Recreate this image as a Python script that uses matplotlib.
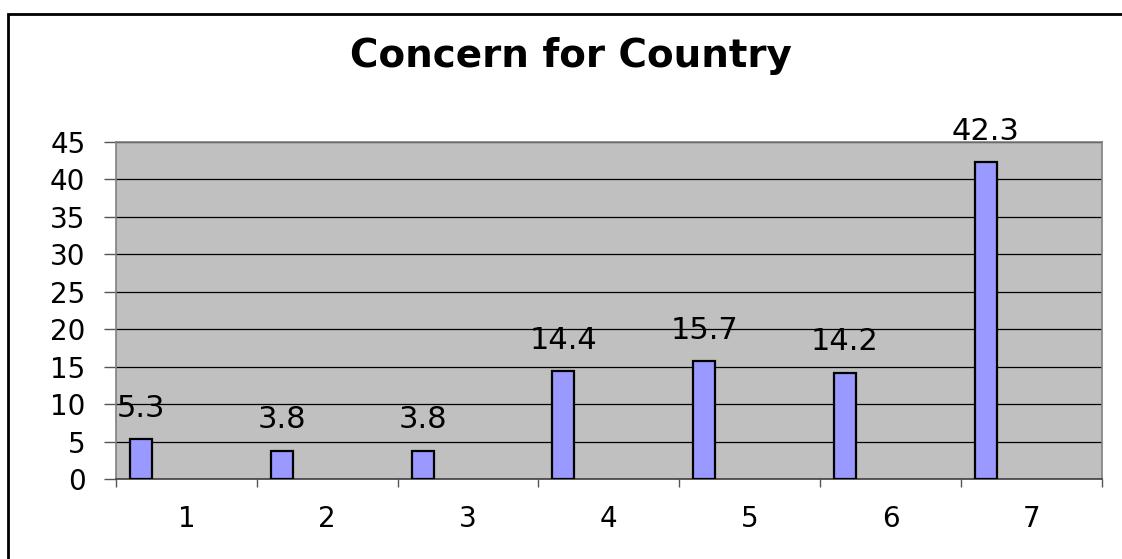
import matplotlib
matplotlib.use('Agg')
import matplotlib.pyplot as plt
from matplotlib.patches import Rectangle
import numpy as np

# Antworten auf der Skala 1..7 (Prozent)
kategorien = ['1', '2', '3', '4', '5', '6', '7']
werte = [5.3, 3.8, 3.8, 14.4, 15.7, 14.2, 42.3]
y_ticks = [0, 5, 10, 15, 20, 25, 30, 35, 40, 45]

plt.rcParams['font.family'] = ['DejaVu Sans']

fig = plt.figure(figsize=(11.22, 5.59), dpi=100)
fig.patch.set_facecolor('white')

# Rahmen um das ganze Diagramm (rechts und unten abgeschnitten)
rahmen = Rectangle((8 / 1122, -0.1), 1.2, 1 - 14 / 559 + 0.1, transform=fig.transFigure,
                   fill=False, edgecolor='black', linewidth=2.0)
fig.patches.append(rahmen)

ax = fig.add_axes([116 / 1122, 1 - 479 / 559, 985.7 / 1122, 337.3 / 559])
ax.set_facecolor('#C0C0C0')

pos = np.arange(len(werte))
versatz = -0.5 + 0.0994 + 0.078
breite = 0.156
ax.bar(pos + versatz, werte, width=breite, color='#9999FF', edgecolor='black', linewidth=1.6, zorder=3)

for xp, w in zip(pos + versatz, werte):
    ax.annotate(f'{w}', xy=(xp, w), xytext=(0, 16), textcoords='offset points',
                ha='center', va='baseline', fontsize=22, color='black', zorder=4,
                annotation_clip=False)

ax.set_xlim(-0.5, len(werte) - 0.5)
ax.set_ylim(0, 45)
ax.set_yticks(y_ticks)
ax.yaxis.grid(True, color='black', linewidth=0.9, zorder=1)
ax.set_axisbelow(True)

ax.set_xticks(pos)
ax.set_xticklabels(kategorien)
ax.set_xticks(np.arange(len(werte) + 1) - 0.5, minor=True)
ax.tick_params(axis='x', which='major', length=0, pad=19, labelsize=20)
ax.tick_params(axis='x', which='minor', length=6, width=1, color='#555555', direction='out')
ax.tick_params(axis='y', length=9, width=1, color='#555555', direction='out', pad=13, labelsize=20)

for s in ax.spines.values():
    s.set_color('#808080')
    s.set_linewidth(1.2)
ax.spines['bottom'].set_color('#404040')

fig.text(570.5 / 1122, 1 - 67 / 559, 'Concern for Country', ha='center', va='baseline',
         fontsize=28, fontweight='bold', color='black')

plt.savefig('out.png', dpi=100)
